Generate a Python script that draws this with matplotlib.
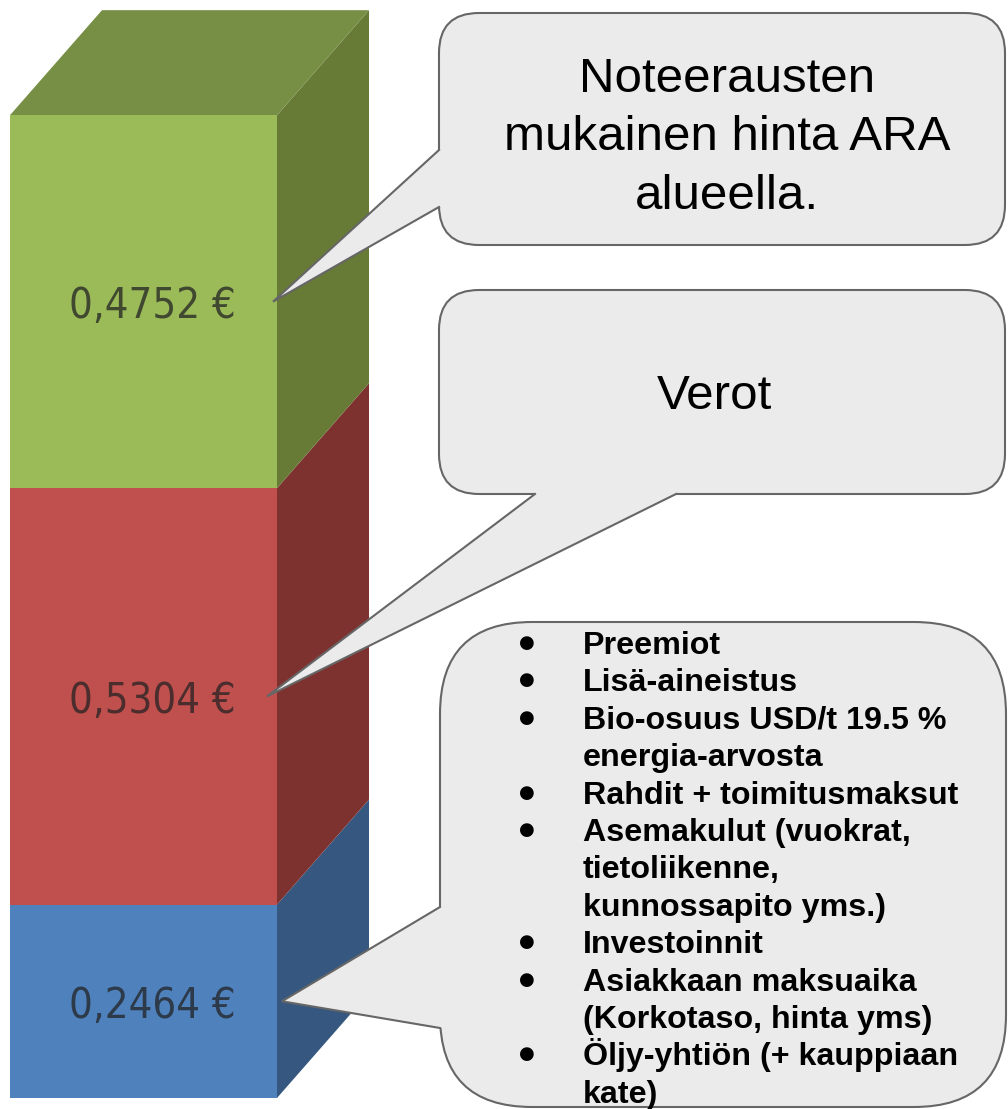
import matplotlib
matplotlib.use('Agg')
import matplotlib.pyplot as plt
from matplotlib.patches import Polygon, FancyBboxPatch

# ---------------- data ----------------
components = ['Muut kulut ja kate', 'Verot', 'ARA-noteeraus']   # bottom -> top
values = [0.2464, 0.5304, 0.4752]
value_labels = ['0,2464 €', '0,5304 €', '0,4752 €']

front_colors = ['#4F81BD', '#C0504D', '#9BBB59']
side_colors = ['#36577F', '#7E3230', '#677B37']
top_color = '#778F45'

callout_title_1 = ['Noteerausten', 'mukainen hinta ARA', 'alueella.']
callout_title_2 = ['Verot']
callout_items = [
    ['Preemiot'],
    ['Lisä-aineistus'],
    ['Bio-osuus USD/t 19.5 %', 'energia-arvosta'],
    ['Rahdit + toimitusmaksut'],
    ['Asemakulut (vuokrat,', 'tietoliikenne,', 'kunnossapito yms.)'],
    ['Investoinnit'],
    ['Asiakkaan maksuaika', '(Korkotaso, hinta yms)'],
    ['Öljy-yhtiön (+ kauppiaan', 'kate)'],
]

# ---------------- figure ----------------
W, H = 1008, 1109
fig = plt.figure(figsize=(W / 100, H / 100), dpi=100)
fig.patch.set_facecolor('white')

px_per_unit = 785.0
y_base_px = 1098.0
ax = fig.add_axes([0, 0, 1, 1])
ax.set_xlim(0, W)
ax.set_ylim(-(H - y_base_px) / px_per_unit, y_base_px / px_per_unit)
ax.axis('off')

bar_x0, bar_x1 = 10, 277
dx = 92
dy = 105 / px_per_unit

bottoms = []
b = 0.0
for v in values:
    bottoms.append(b)
    b += v
total = b

ax.bar([(bar_x0 + bar_x1) / 2] * 3, values, bottom=bottoms, width=bar_x1 - bar_x0,
       color=front_colors, linewidth=0, zorder=2)

for v, b0, sc in zip(values, bottoms, side_colors):
    side = Polygon([(bar_x1, b0), (bar_x1 + dx, b0 + dy), (bar_x1 + dx, b0 + v + dy), (bar_x1, b0 + v)],
                   closed=True, facecolor=sc, edgecolor='none', zorder=1)
    ax.add_patch(side)

top = Polygon([(bar_x0, total), (bar_x0 + dx, total + dy), (bar_x1 + dx, total + dy), (bar_x1, total)],
              closed=True, facecolor=top_color, edgecolor='none', zorder=1)
ax.add_patch(top)

for v, b0, lab in zip(values, bottoms, value_labels):
    ax.text(152, b0 + v / 2, lab, ha='center', va='center_baseline', fontsize=30,
            family=['DejaVu Sans'], fontstretch='condensed',
            color='#222222', alpha=0.75, zorder=3)

# ---------------- callouts (pixel overlay) ----------------
ax2 = fig.add_axes([0, 0, 1, 1], zorder=5)
ax2.set_xlim(0, W)
ax2.set_ylim(H, 0)
ax2.axis('off')
ax2.patch.set_alpha(0)

box_fc = '#EBEBEB'
box_ec = '#666666'
lw = 1.5


def to_px(x, y):
    d = ax.transData.transform((x, y))
    return ax2.transData.inverted().transform(d)


def callout(x0, y0, x1, y1, r, b1, b2, inward, tip):
    box = FancyBboxPatch((x0, y0), x1 - x0, y1 - y0,
                         boxstyle='round,pad=0,rounding_size=%d' % r,
                         facecolor=box_fc, edgecolor=box_ec, linewidth=lw, zorder=1)
    ax2.add_patch(box)
    ix, iy = inward
    tri = Polygon([tip, b1, (b1[0] + ix, b1[1] + iy), (b2[0] + ix, b2[1] + iy), b2],
                  closed=True, facecolor=box_fc, edgecolor='none', zorder=2)
    ax2.add_patch(tri)
    ax2.plot([b1[0], tip[0], b2[0]], [b1[1], tip[1], b2[1]], color=box_ec,
             linewidth=lw, solid_joinstyle='miter', zorder=3)


# tips at segment centres
tip_green = to_px(bar_x1 - 4, bottoms[2] + values[2] / 2)
tip_red = to_px(bar_x1 - 10, bottoms[1] + values[1] / 2)
tip_blue = to_px(bar_x1 + 5, bottoms[0] + values[0] / 2)

callout(439, 13, 1005, 245, 40, (439, 150), (439, 207), (4, 0), tip_green)
callout(439, 290, 1005, 494, 40, (535, 494), (676, 494), (0, -4), tip_red)
callout(440, 622, 1006, 1107, 92, (440, 907), (440, 1028), (4, 0), tip_blue)

reg_font = ['Liberation Sans', 'DejaVu Sans']
for i, line in enumerate(callout_title_1):
    ax2.text(727, 92 + i * 58.5, line, ha='center', va='baseline', fontsize=35.5,
             family=reg_font, color='black', zorder=4)
ax2.text(714, 409, callout_title_2[0], ha='center', va='baseline', fontsize=35.5,
         family=reg_font, color='black', zorder=4)

line_no = 0
base0 = 654
step = 37.4
for item in callout_items:
    for j, line in enumerate(item):
        yb = base0 + line_no * step
        if j == 0:
            ax2.text(527, yb - 11, '●', ha='center', va='center', fontsize=13,
                     family=['DejaVu Sans'], color='black', zorder=4)
        ax2.text(583, yb, line, ha='left', va='baseline', fontsize=23.2,
                 fontweight='bold', family=reg_font, color='black', zorder=4)
        line_no += 1

fig.savefig('out.png', dpi=100, facecolor='white')
